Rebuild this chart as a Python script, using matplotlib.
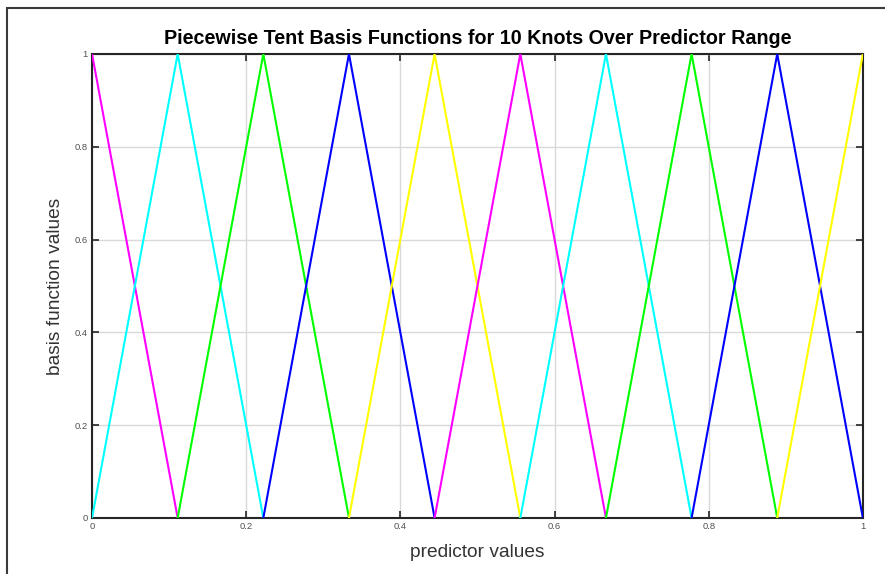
import numpy as np
import matplotlib.pyplot as plt
from matplotlib.patches import Rectangle

plt.rcParams['font.family'] = ['Liberation Sans', 'DejaVu Sans']

# knot locations (10 equally spaced knots over [0, 1])
knots = [0.0, 0.1111, 0.2222, 0.3333, 0.4444, 0.5556, 0.6667, 0.7778, 0.8889, 1.0]
# each tent peaks at 1 on its own knot and drops to 0 at the neighbours
peak = 1.0
floor = 0.0
colors = ['#ff00ff', '#00ffff', '#00ff00', '#0000ff', '#ffff00',
          '#ff00ff', '#00ffff', '#00ff00', '#0000ff', '#ffff00']

xticks = [0, 0.2, 0.4, 0.6, 0.8, 1]
xticklabels = ['0', '0.2', '0.4', '0.6', '0.8', '1']
yticks = [0, 0.2, 0.4, 0.6, 0.8, 1]
yticklabels = ['0', '0.2', '0.4', '0.6', '0.8', '1']

fig = plt.figure(figsize=(8.85, 5.74), dpi=100)
ax = fig.add_axes([0.104, 0.0976, 0.871, 0.8084])

for i in range(len(knots)):
    xs, ys = [], []
    if i > 0:
        xs.append(knots[i - 1]); ys.append(floor)
    xs.append(knots[i]); ys.append(peak)
    if i < len(knots) - 1:
        xs.append(knots[i + 1]); ys.append(floor)
    ax.plot(xs, ys, color=colors[i], linewidth=1.5, zorder=3)

ax.set_xlim(0, 1)
ax.set_ylim(0, 1)
ax.set_xticks(xticks)
ax.set_xticklabels(xticklabels)
ax.set_yticks(yticks)
ax.set_yticklabels(yticklabels)
ax.grid(True, color='#d9d9d9', linewidth=1.0)
ax.set_axisbelow(True)
ax.tick_params(direction='in', length=5, width=1.2, colors='#262626',
               labelcolor='#505050', labelsize=6.8, top=True, right=True, pad=3)
for s in ax.spines.values():
    s.set_color('#262626')
    s.set_linewidth(1.5)

ax.set_title('Piecewise Tent Basis Functions for 10 Knots Over Predictor Range',
             fontsize=14.2, fontweight='bold', pad=7)
ax.set_xlabel('predictor values', fontsize=13.8, color='#333333', labelpad=9)
ax.set_ylabel('basis function values', fontsize=13.8, color='#333333', labelpad=8)

# outer frame of the figure window
fig.patches.append(Rectangle((7 / 885, -0.1), 1.2, 1 - 8 / 574 + 0.1,
                             transform=fig.transFigure, fill=False,
                             edgecolor='#3a3a3a', linewidth=1.5))

fig.savefig('out.png', dpi=100)
